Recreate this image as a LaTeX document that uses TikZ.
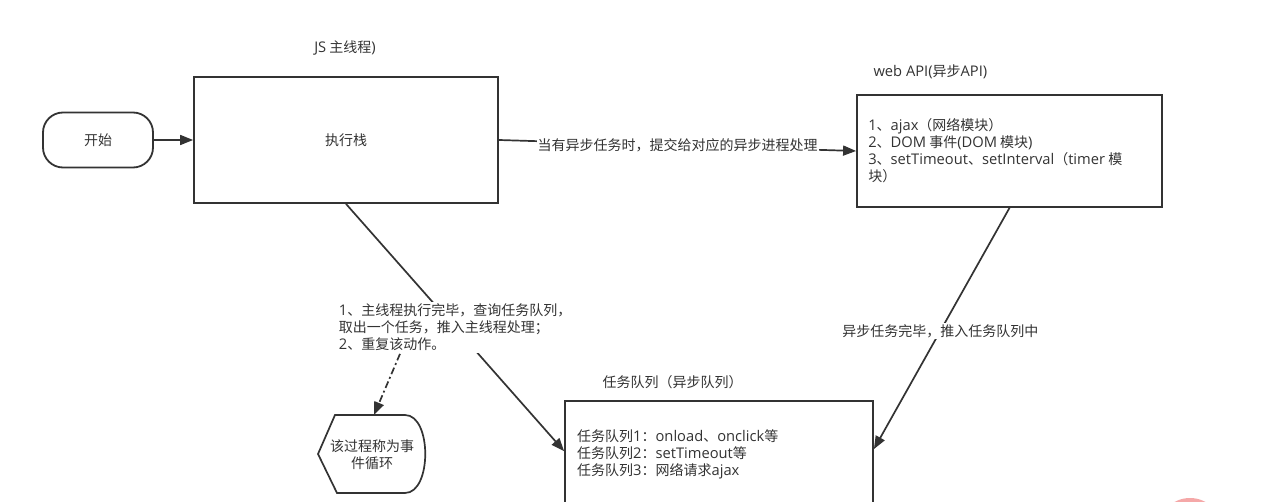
\documentclass[tikz,border=0pt]{standalone}
\usepackage{fontspec}
\setmainfont{Noto Sans CJK SC}
\newfontfamily\latfont{Open Sans}[Scale=1.05]
\newcommand{\La}[1]{{\latfont #1}}
\usetikzlibrary{arrows.meta,calc}
\definecolor{ink}{HTML}{333333}
\definecolor{wm}{HTML}{F5A8A8}
\tikzset{
  every node/.style={font=\fontsize{14}{17}\selectfont, text=ink},
  box/.style={draw=ink, line width=1.8pt, fill=white, inner sep=0pt},
  txt/.style={align=left, inner sep=0pt},
  conn/.style={draw=ink, line width=1.7pt},
  arr/.style={conn, -{Triangle[length=13pt,width=10pt]}},
  lbl/.style={fill=white, inner sep=1pt},
  dashdot/.style={arr, dash pattern=on 7pt off 3pt on 2pt off 3pt}
}
\begin{document}
\begin{tikzpicture}[x=1pt,y=-1pt]
\useasboundingbox (0,0) rectangle (1269,502);
\clip (0,0) rectangle (1269,502);
\fill[white] (0,0) rectangle (1269,502);

% pink mark at bottom right
\fill[wm] (1190,530) circle (32);

% titles
\node (jsT) at (345,48) {\La{JS} 主线程\La{)}};
\node[anchor=west] (apiT) at (870,72) {\La{web API(}异步\La{API)}};
\node[anchor=west] (qT) at (599,382) {任务队列（异步队列）};

% start
\node[box, rounded corners=20pt, minimum width=110pt, minimum height=55pt] (start) at (98,140) {开始};

% execution stack
\node[box, minimum width=304pt, minimum height=126pt] (stack) at (346,140) {执行栈};

% web API
\node[box, minimum width=305pt, minimum height=112pt] (api) at (1009.5,151) {};
\node[txt, anchor=west] (apiX) at ([xshift=12pt]api.west) {\La{1}、\La{ajax}（网络模块）\\\La{2}、\La{DOM} 事件\La{(DOM} 模块\La{)}\\\La{3}、\La{setTimeout}、\La{setInterval}（\La{timer} 模\\块）};

% task queue
\node[box, minimum width=308pt, minimum height=130pt] (queue) at (719,466) {};
\node[txt, anchor=west] (qX) at (577,454) {任务队列\La{1}：\La{onload}、\La{onclick}等\\任务队列\La{2}：\La{setTimeout}等\\任务队列\La{3}：网络请求\La{ajax}};

% event loop (display shape)
\node[align=center, inner sep=0pt] (loop) at (372,455) {该过程称为事\\件循环};
\draw[conn] (318,454) -- (335,415) -- (405,415)
  .. controls (432,415) and (432,493) .. (405,493) -- (337,493) -- cycle;
\coordinate (loopTop) at (374,415);

% connectors
\draw[arr] (start.east) -- (stack.west);
\draw[arr] (stack.east) -- node[lbl, pos=0.5] (l1) {当有异步任务时，提交给对应的异步进程处理} (api.west);
\draw[arr] (api.south) -- node[lbl, pos=0.51] (l2) {异步任务完毕，推入任务队列中} ([yshift=-49pt]queue.north east);
\draw[arr] (stack.south) -- node[lbl, txt, fill=white, inner sep=2pt, pos=0.5] (l3) {\La{1}、主线程执行完毕，查询任务队列，\\取出一个任务，推入主线程处理；\\\La{2}、重复该动作。} ([yshift=-51pt]queue.north west);
\draw[dashdot] ([xshift=64pt]l3.south west) -- (loopTop);
\end{tikzpicture}
\end{document}
